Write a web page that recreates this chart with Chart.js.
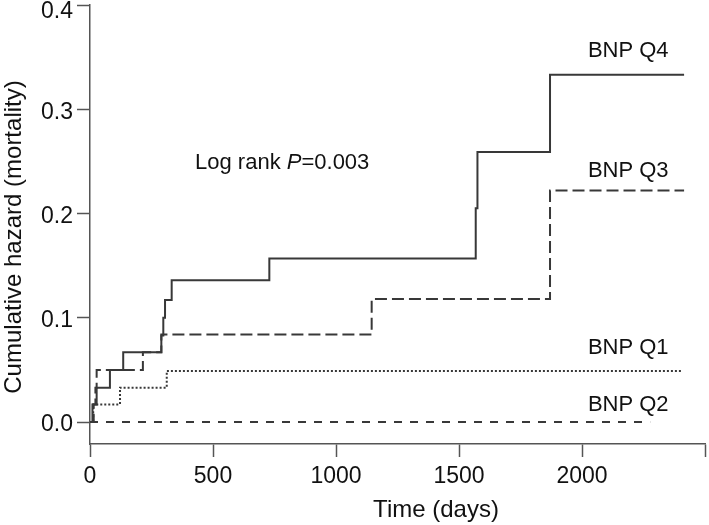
<!DOCTYPE html>
<html>
<head>
<meta charset="utf-8">
<script src="https://cdn.jsdelivr.net/npm/chart.js@4/dist/chart.umd.min.js"></script>
<style>
  html, body { margin: 0; padding: 0; background: #fff; }
  #wrap { width: 709px; height: 525px; }
</style>
</head>
<body>
<div id="wrap"><canvas id="km"></canvas></div>
<script>
// step data (days, cumulative hazard)
const q4Days = [0, 10, 27, 81, 135, 290, 298, 305, 332, 729, 1568, 1575, 1870, 2415];
const q4Haz  = [0, 0.017, 0.033, 0.05, 0.067, 0.083, 0.1, 0.117, 0.136, 0.157, 0.205, 0.259, 0.333, 0.333];

const q3Days = [0, 15, 22, 27, 215, 290, 1145, 1870, 2415];
const q3Haz  = [0, 0.017, 0.033, 0.05, 0.067, 0.084, 0.118, 0.222, 0.222];

const q1Days = [0, 13, 122, 312, 2410];
const q1Haz  = [0, 0.017, 0.033, 0.049, 0.049];

const q2Days = [0, 2277];
const q2Haz  = [0, 0];

const xTicks = [0, 500, 1000, 1500, 2000, 2500];
const yTicks = [0, 0.1, 0.2, 0.3, 0.4];

// curve labels: [text, day, hazard] where the text starts
const curveLabels = [
  ["BNP Q4", 2024, 0.356],
  ["BNP Q3", 2024, 0.241],
  ["BNP Q1", 2024, 0.071],
  ["BNP Q2", 2024, 0.016]
];
const pLabel = { day: 427, haz: 0.249 };

const FONT = "'Liberation Sans', Arial, sans-serif";
const INK = "#383838";
const AXIS = "#555";

function toPoints(days, haz) {
  return days.map((d, i) => ({ x: d, y: haz[i] }));
}

function curve(days, haz, dash) {
  return {
    data: toPoints(days, haz),
    borderColor: INK,
    borderWidth: 2,
    borderDash: dash,
    pointRadius: 0,
    stepped: "before",
    fill: false,
    clip: false
  };
}

// text: y tick labels, axis titles, curve labels
const textPlugin = {
  id: "kmText",
  afterDatasetsDraw(chart) {
    const ctx = chart.ctx;
    const x = chart.scales.x, y = chart.scales.y;
    ctx.save();
    ctx.fillStyle = "#111";
    ctx.textBaseline = "middle";

    // y tick labels (the top one kept inside the canvas)
    ctx.textAlign = "right";
    ctx.font = "23px " + FONT;
    yTicks.forEach(v => {
      const py = Math.max(y.getPixelForValue(v) + 3, 12);
      ctx.fillText(v.toFixed(1), 73, py);
    });

    // axis titles
    ctx.textAlign = "center";
    ctx.font = "24px " + FONT;
    ctx.fillText("Time (days)", 436, 510);
    ctx.save();
    ctx.translate(14, 237);
    ctx.rotate(-Math.PI / 2);
    ctx.fillText("Cumulative hazard (mortality)", 0, 0);
    ctx.restore();

    ctx.textAlign = "left";
    ctx.font = "22px " + FONT;
    curveLabels.forEach(([t, d, h]) => {
      ctx.fillText(t, x.getPixelForValue(d), y.getPixelForValue(h));
    });

    // Log rank P=0.003, with italic P
    let px = x.getPixelForValue(pLabel.day);
    const py = y.getPixelForValue(pLabel.haz);
    ctx.fillText("Log rank ", px, py);
    px += ctx.measureText("Log rank ").width;
    ctx.font = "italic 22px " + FONT;
    ctx.fillText("P", px, py);
    px += ctx.measureText("P").width;
    ctx.font = "22px " + FONT;
    ctx.fillText("=0.003", px, py);
    ctx.restore();
  }
};

new Chart(document.getElementById("km"), {
  type: "line",
  data: {
    datasets: [
      curve(q4Days, q4Haz, []),
      curve(q3Days, q3Haz, [12, 5]),
      curve(q1Days, q1Haz, [2, 2]),
      curve(q2Days, q2Haz, [8, 8])
    ]
  },
  options: {
    responsive: true,
    maintainAspectRatio: false,
    animation: false,
    layout: { padding: { top: 5, right: 4, left: 0, bottom: 0 } },
    plugins: { legend: { display: false }, tooltip: { enabled: false } },
    scales: {
      x: {
        type: "linear",
        min: 0,
        max: 2500,
        afterBuildTicks: (s) => { s.ticks = xTicks.map(v => ({ value: v })); },
        afterFit: (s) => { s.height = 81; s.paddingLeft = 0; s.paddingRight = 0; },
        border: { display: true, color: AXIS, width: 1.5 },
        grid: { display: true, drawOnChartArea: false, drawTicks: true, tickLength: 13, tickColor: AXIS, tickWidth: 1.5 },
        ticks: {
          color: "#111",
          font: { family: FONT, size: 23 },
          padding: 6,
          maxRotation: 0,
          callback: (v) => (v === 2500 ? "" : String(v))
        },
        title: { display: false }
      },
      y: {
        min: -0.021,
        max: 0.4,
        afterBuildTicks: (s) => { s.ticks = yTicks.map(v => ({ value: v })); },
        afterFit: (s) => { s.width = 90; s.paddingTop = 0; s.paddingBottom = 0; },
        border: { display: true, color: AXIS, width: 1.5 },
        grid: { display: true, drawOnChartArea: false, drawTicks: true, tickLength: 13, tickColor: AXIS, tickWidth: 1.5 },
        ticks: { display: false },
        title: { display: false }
      }
    }
  },
  plugins: [textPlugin]
});
</script>
</body>
</html>
